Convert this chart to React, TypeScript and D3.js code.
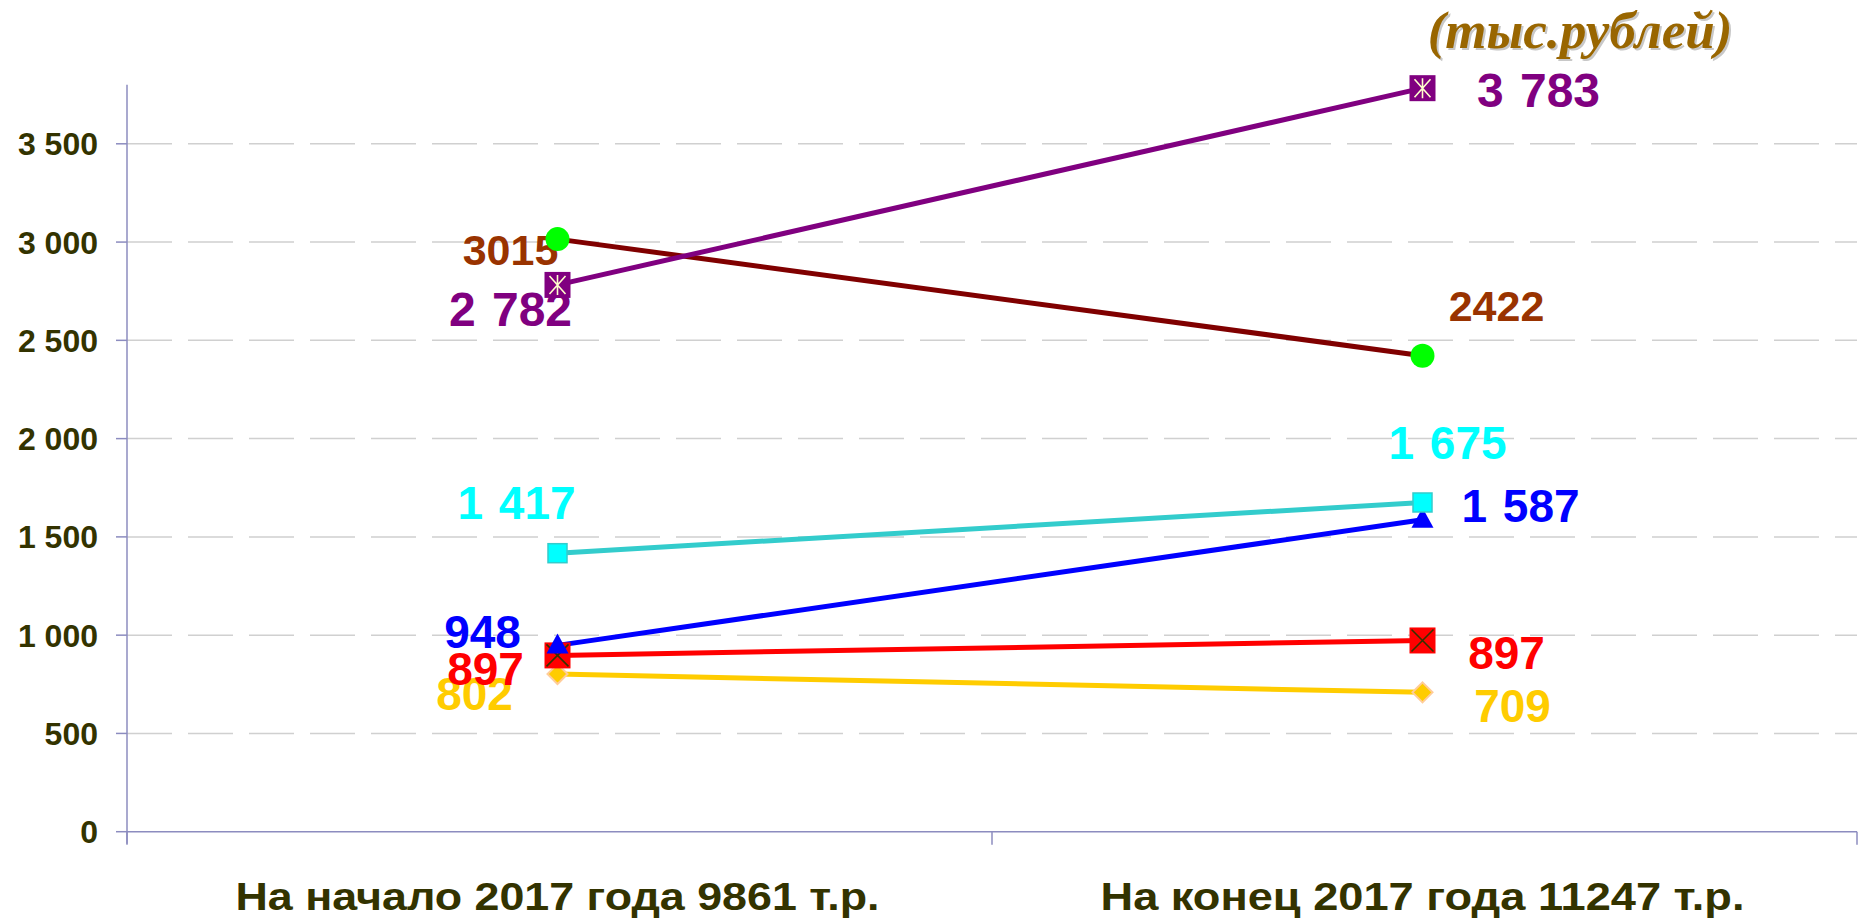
import React from 'react';
import * as d3 from 'd3';

// ---- data ----
const categories = ['На начало 2017 года 9861 т.р.', 'На конец 2017 года 11247 т.р.'];
const yTicks = [0, 500, 1000, 1500, 2000, 2500, 3000, 3500];
const yTickLabels = ['0', '500', '1 000', '1 500', '2 000', '2 500', '3 000', '3 500'];
const goldValues = [802, 709];
const goldLabels = ['802', '709'];
const redValues = [897, 973];
const redLabels = ['897', '897'];
const blueValues = [948, 1587];
const blueLabels = ['948', '1 587'];
const tealValues = [1417, 1675];
const tealLabels = ['1 417', '1 675'];
const maroonValues = [3015, 2422];
const maroonLabels = ['3015', '2422'];
const purpleValues = [2782, 3783];
const purpleLabels = ['2 782', '3 783'];
const unitTitle = '(тыс.рублей)';

// ---- styles ----
type Marker = 'diamond' | 'xsquare' | 'triangle' | 'square' | 'circle' | 'starsquare';
interface SeriesStyle {
  values: number[];
  labels: string[];
  line: string;
  labelColor: string;
  labelSize: number;
  marker: Marker;
  offsets: [number, number][];
}
const series: SeriesStyle[] = [
  { values: goldValues, labels: goldLabels, line: '#FFCC00', labelColor: '#FFCC00', labelSize: 46, marker: 'diamond', offsets: [[-83, 19], [90, 13]] },
  { values: redValues, labels: redLabels, line: '#FF0000', labelColor: '#FF0000', labelSize: 46, marker: 'xsquare', offsets: [[-72, 13], [84, 12]] },
  { values: blueValues, labels: blueLabels, line: '#0000FF', labelColor: '#0000FF', labelSize: 46, marker: 'triangle', offsets: [[-75, -14], [98, -14]] },
  { values: tealValues, labels: tealLabels, line: '#33CCCC', labelColor: '#00FFFF', labelSize: 46, marker: 'square', offsets: [[-41, -51], [25, -60]] },
  { values: maroonValues, labels: maroonLabels, line: '#800000', labelColor: '#993300', labelSize: 43, marker: 'circle', offsets: [[-47, 10], [74, -50]] },
  { values: purpleValues, labels: purpleLabels, line: '#800080', labelColor: '#800080', labelSize: 48, marker: 'starsquare', offsets: [[-47, 24], [116, 2]] },
];

const W = 1863;
const H = 924;
const left = 127;
const right = 1857;
const y0 = 831.7;
const y3500 = 143.8;

function MarkerShape({ type, x, y }: { type: Marker; x: number; y: number }) {
  switch (type) {
    case 'diamond':
      return <path d={`M${x},${y - 10}L${x + 10},${y}L${x},${y + 10}L${x - 10},${y}Z`} fill="#FFCC00" stroke="#FFCC99" strokeWidth={2} />;
    case 'xsquare':
      return (
        <g>
          <rect x={x - 13} y={y - 13} width={26} height={26} fill="#FF0000" />
          <path d={`M${x - 11},${y - 11}L${x + 11},${y + 11}M${x + 11},${y - 11}L${x - 11},${y + 11}`} stroke="#333300" strokeWidth={1.6} />
        </g>
      );
    case 'triangle':
      return <path d={`M${x},${y - 12}L${x + 11},${y + 8}L${x - 11},${y + 8}Z`} fill="#0000FF" />;
    case 'square':
      return <rect x={x - 9.5} y={y - 9.5} width={19} height={19} fill="#00FFFF" stroke="#33CCCC" strokeWidth={1.5} />;
    case 'circle':
      return <circle cx={x} cy={y} r={12} fill="#00FF00" />;
    case 'starsquare':
      return (
        <g>
          <rect x={x - 13} y={y - 13} width={26} height={26} fill="#800080" />
          <path d={`M${x},${y - 10}L${x},${y + 10}M${x - 8},${y - 9}L${x + 8},${y + 9}M${x + 8},${y - 9}L${x - 8},${y + 9}`} stroke="#FFFFCC" strokeWidth={1.6} />
        </g>
      );
  }
}

export default function App() {
  const x = d3.scaleBand<string>().domain(categories).range([left, right]);
  const y = d3.scaleLinear().domain([0, 3500]).range([y0, y3500]);
  const cx = (c: string) => (x(c) as number) + x.bandwidth() / 2 - 2;
  const line = d3
    .line<number>()
    .x((_, i) => cx(categories[i]))
    .y((d) => y(d));
  const axisColor = '#8C8CBF';
  const boundaries = [left, (x(categories[1]) as number), right];

  return (
    <div style={{ position: 'absolute', left: 0, top: 0 }}>
      <svg width={W} height={H} style={{ display: 'block', background: '#fff' }}>
        {/* gridlines */}
        {yTicks.slice(1).map((t) => (
          <line key={t} x1={left} x2={right} y1={y(t)} y2={y(t)} stroke="#D0D0D0" strokeWidth={1.5} strokeDasharray="45 16" />
        ))}
        {/* y axis */}
        <line x1={left} x2={left} y1={y(3800)} y2={y0 + 12} stroke={axisColor} strokeWidth={1.5} />
        {yTicks.map((t, i) => (
          <g key={t}>
            <line x1={left - 11} x2={left} y1={y(t)} y2={y(t)} stroke={axisColor} strokeWidth={1.5} />
            <text x={98} y={y(t)} dy="0.36em" textAnchor="end" fontFamily="'Liberation Sans', Arial, sans-serif" fontWeight="bold" fontSize={32} fill="#333300" style={{ whiteSpace: 'pre' }}>
              {yTickLabels[i]}
            </text>
          </g>
        ))}
        {/* x axis */}
        <line x1={left} x2={right} y1={y0} y2={y0} stroke={axisColor} strokeWidth={1.5} />
        {boundaries.map((b, i) => (
          <line key={i} x1={b} x2={b} y1={y0} y2={y0 + 13} stroke={axisColor} strokeWidth={1.5} />
        ))}
        {categories.map((c) => (
          <text key={c} x={cx(c)} y={910} textAnchor="middle" fontFamily="'Liberation Sans', Arial, sans-serif" fontWeight="bold" fontSize={38} fill="#333300" textLength={644} lengthAdjust="spacingAndGlyphs">
            {c}
          </text>
        ))}
        {/* lines */}
        {series.map((s, i) => (
          <path key={i} d={line(s.values) as string} fill="none" stroke={s.line} strokeWidth={5} />
        ))}
        {/* labels */}
        {series.map((s, i) =>
          s.values.map((v, j) => (
            <text key={`${i}-${j}`} x={cx(categories[j]) + s.offsets[j][0]} y={y(v) + s.offsets[j][1]} dy="0.36em" textAnchor="middle" fontFamily="'Liberation Sans', Arial, sans-serif" fontWeight="bold" fontSize={s.labelSize} fill={s.labelColor} style={{ whiteSpace: 'pre', wordSpacing: '3px' }}>
              {s.labels[j]}
            </text>
          ))
        )}
        {/* markers */}
        {series.map((s, i) =>
          s.values.map((v, j) => <MarkerShape key={`${i}-${j}`} type={s.marker} x={cx(categories[j])} y={y(v)} />)
        )}
        {/* unit title */}
        <text x={1580} y={48} textAnchor="middle" fontFamily="'Liberation Serif', 'Times New Roman', serif" fontStyle="italic" fontWeight="bold" fontSize={53} fill="#C8C8C8" transform="translate(2,2)">
          {unitTitle}
        </text>
        <text x={1580} y={48} textAnchor="middle" fontFamily="'Liberation Serif', 'Times New Roman', serif" fontStyle="italic" fontWeight="bold" fontSize={53} fill="#996600">
          {unitTitle}
        </text>
      </svg>
    </div>
  );
}
